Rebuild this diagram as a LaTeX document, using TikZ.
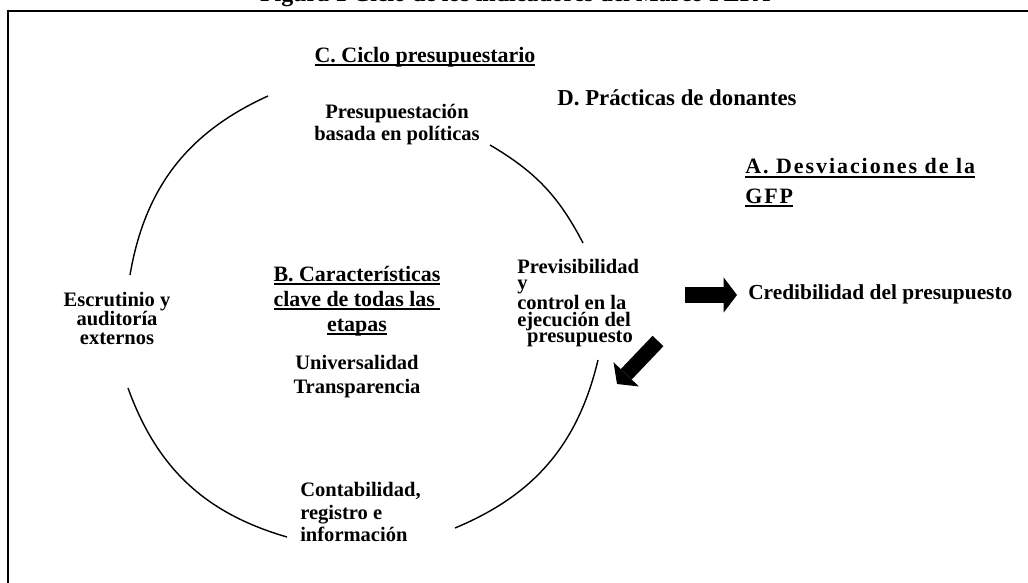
\documentclass[tikz,border=0pt]{standalone}
\usepackage{fontspec}
\setmainfont{Liberation Serif}
\usetikzlibrary{arrows.meta}
\newcommand{\hdrline}[1]{\setbox0\hbox{#1}\rlap{\rule[-2.8pt]{\wd0}{1.4pt}}\box0}

\begin{document}
\begin{tikzpicture}[x=0.025cm, y=-0.025cm,
    txt/.style={inner sep=0pt, font=\bfseries\fontsize{14.6}{13.5}\selectfont},
    hdr/.style={inner sep=0pt, font=\bfseries\fontsize{15.6}{18}\selectfont},
    cyc/.style={line width=1pt},
    blockarrow/.style={line width=10.7pt,
      -{Triangle[length=9.5pt, width=25pt, line width=0pt]}}]
  \useasboundingbox (0,0) rectangle (1028,583);
  \draw[line width=1.4pt] (8,620) -- (8,11) -- (1060,11);
  \node[inner sep=0pt, anchor=base, font=\bfseries\fontsize{17}{20}\selectfont]
    (title) at (515,1.5) {Figura 1 Ciclo de los indicadores del Marco PEFA};

  % headers
  \node[hdr] (ciclo) at (425,57) {\hdrline{C. Ciclo presupuestario}};
  \node[hdr, font=\bfseries\fontsize{16.2}{18}\selectfont] (donantes) at (677,98) {D. Prácticas de donantes};
  \node[hdr, align=left, anchor=west, font=\bfseries\fontsize{15.6}{21}\selectfont\addfontfeatures{LetterSpace=9}]
    (desv) at (745,183) {\hdrline{A. Desviaciones de la}\\\hdrline{GFP}};
  \node[hdr, align=center, font=\bfseries\fontsize{15.6}{17.8}\selectfont]
    (claves) at (357,301) {\hdrline{B. Características}\\\hdrline{clave de todas las\ }\\\hdrline{etapas}};

  % stages of the cycle
  \node[txt, align=center, font=\bfseries\fontsize{14.6}{15.6}\selectfont]
    (politicas) at (397,125) {Presupuestación\\basada en políticas};
  \node[txt, align=center] (escrutinio) at (117,318) {Escrutinio y\\auditoría\\externos};
  \node[txt, align=left, anchor=west, font=\bfseries\fontsize{14.6}{11.8}\selectfont]
    (ejecucion) at (517,303) {Previsibilidad\\y\\control en la\\ejecución del\\\hspace*{7pt}presupuesto};
  \node[txt, align=left, anchor=west, font=\bfseries\fontsize{14.6}{15.8}\selectfont]
    (contabilidad) at (300,512) {Contabilidad,\\registro e\\información};
  \node[txt, align=center, font=\bfseries\fontsize{14.6}{17}\selectfont]
    (universal) at (357,377) {Universalidad\\Transparencia};
  \node[txt, anchor=west, font=\bfseries\fontsize{15.2}{17}\selectfont]
    (credibilidad) at (748,294) {Credibilidad del presupuesto};

  % the circle, in four pieces
  \coordinate (a1) at (130,275);
  \coordinate (a2) at (268,96);
  \coordinate (b1) at (490,145);
  \coordinate (b2) at (583,243);
  \coordinate (c1) at (598,360);
  \coordinate (c2) at (455,528);
  \coordinate (d1) at (287,537);
  \coordinate (d2) at (128,388);
  \draw[cyc] (a1) to[bend left=28] (a2);
  \draw[cyc] (b1) to[bend left=16] (b2);
  \draw[cyc] (c1) to[bend left=27] (c2);
  \draw[cyc] (d1) to[bend left=27] (d2);

  % block arrows
  \coordinate (r0) at (685,295);
  \coordinate (r1) at (737,295);
  \coordinate (s0) at (658,341);
  \coordinate (s1) at (617,384);
  \draw[blockarrow] (r0) -- (r1);
  \draw[blockarrow] (s0) -- (s1);
\end{tikzpicture}
\end{document}
